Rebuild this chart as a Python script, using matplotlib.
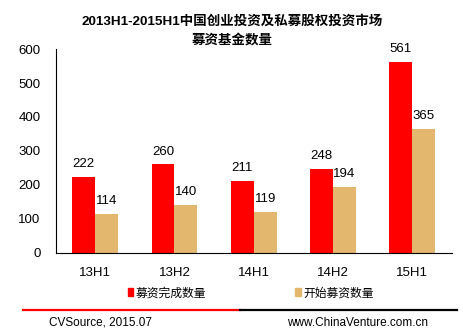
import numpy as np
import matplotlib.pyplot as plt
from matplotlib.lines import Line2D
from matplotlib.patches import Patch

plt.rcParams['font.family'] = ['Liberation Sans', 'Noto Sans CJK SC']

periods = ['13H1', '13H2', '14H1', '14H2', '15H1']
closed_funds = [222, 260, 211, 248, 561]
started_funds = [114, 140, 119, 194, 365]
series_names = ['募资完成数量', '开始募资数量']
red = '#FF0000'
tan = '#E4B76F'

fig = plt.figure(figsize=(4.64, 3.34), dpi=100)
ax = fig.add_axes([0.12, 0.2434, 0.8535, 0.6096])

x = np.arange(len(periods))
w = 0.29
b1 = ax.bar(x - w / 2, closed_funds, w, color=red)
b2 = ax.bar(x + w / 2, started_funds, w, color=tan)
for bars in (b1, b2):
    ax.bar_label(bars, padding=5, fontsize=9.5)

ax.set_xlim(-0.5, len(periods) - 0.5)
ax.set_ylim(0, 600)
ax.set_yticks(range(0, 601, 100))
ax.set_xticks(x)
ax.set_xticklabels(periods)
ax.tick_params(length=0, labelsize=9.5)
ax.tick_params(axis='y', pad=11)
ax.tick_params(axis='x', pad=10)
for s in ('top', 'right'):
    ax.spines[s].set_visible(False)

fig.text(0.5, 0.935, '2013H1-2015H1中国创业投资及私募股权投资市场',
         ha='center', va='center', fontsize=9.7, fontweight='bold')
fig.text(0.5, 0.877, '募资基金数量', ha='center', va='center',
         fontsize=9.7, fontweight='bold')

handles = [Patch(color=red), Patch(color=tan)]
fig.legend(handles, series_names, loc='center', bbox_to_anchor=(0.54, 0.122),
           ncol=2, frameon=False, fontsize=8.5, handlelength=0.5,
           handleheight=0.7, handletextpad=0.2, columnspacing=7.5)

# footer rule and source lines
fig.add_artist(Line2D([0.0496, 0.517], [0.0719, 0.0719], color=red, lw=1.6))
fig.add_artist(Line2D([0.517, 0.985], [0.0719, 0.0719], color='black', lw=1.6))
fig.text(0.106, 0.033, 'CVSource, 2015.07', fontsize=8.5, va='center')
fig.text(0.619, 0.033, 'www.ChinaVenture.com.cn', fontsize=8.5, va='center')

fig.savefig('out.png', dpi=100)
